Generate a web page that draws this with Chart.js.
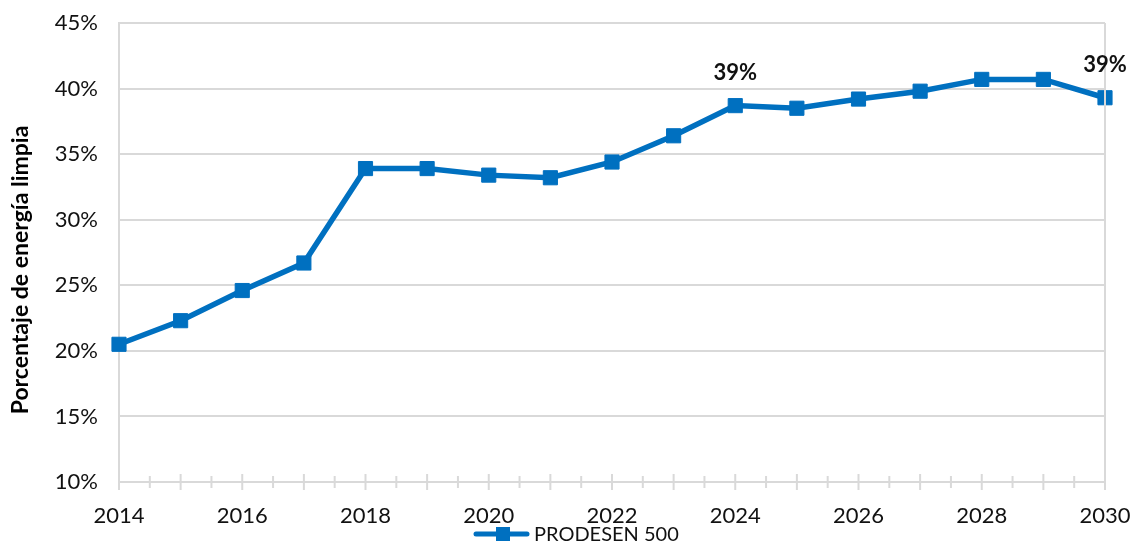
<!DOCTYPE html>
<html>
<head>
<meta charset="utf-8">
<script src="https://cdn.jsdelivr.net/npm/chart.js@4.4.1/dist/chart.umd.min.js"></script>
<style>
html,body{margin:0;padding:0;background:#fff;}
#wrap{width:1132px;height:543px;position:relative;}
</style>
</head>
<body>
<div id="wrap"><canvas id="c" width="1132" height="543"></canvas></div>
<script>
const years = [2014,2015,2016,2017,2018,2019,2020,2021,2022,2023,2024,2025,2026,2027,2028,2029,2030];
const cleanShare = [20.5,22.3,24.6,26.7,33.9,33.9,33.4,33.2,34.4,36.4,38.7,38.5,39.2,39.8,40.7,40.7,39.3];
const labelledYears = [2024,2030];
const labelTexts = ['39%','39%'];
const seriesName = 'PRODESEN 500';
const yAxisTitle = 'Porcentaje de energía limpia';

const BLUE = '#0070C0';
const GRID = '#d9d9d9';
const FONT = 'Lato, "Open Sans", "Liberation Sans", sans-serif';

function zeroPad(s) { s.paddingTop = 0; s.paddingBottom = 0; s.paddingLeft = 0; s.paddingRight = 0; }

const extras = {
  id: 'extras',
  afterDraw(chart) {
    const ctx = chart.ctx;
    const ca = chart.chartArea;
    const xs = chart.scales.x;
    ctx.save();
    // right border of plot area
    ctx.strokeStyle = GRID; ctx.lineWidth = 2;
    ctx.beginPath(); ctx.moveTo(ca.right, ca.top); ctx.lineTo(ca.right, ca.bottom); ctx.stroke();
    // x tick marks crossing the axis
    for (let v = years[0]; v <= years[years.length-1] + 0.001; v += 0.5) {
      const x = xs.getPixelForValue(v);
      const h = Number.isInteger(v) ? 8 : 6;
      ctx.beginPath(); ctx.moveTo(x, ca.bottom - h); ctx.lineTo(x, ca.bottom + h); ctx.stroke();
    }
    // y axis title
    ctx.save();
    ctx.translate(21, 270);
    ctx.rotate(-Math.PI / 2);
    ctx.fillStyle = '#000';
    ctx.font = 'bold 23px ' + FONT;
    ctx.textAlign = 'center'; ctx.textBaseline = 'middle';
    ctx.fillText(yAxisTitle, 0, 0);
    ctx.restore();
    // data labels
    const meta = chart.getDatasetMeta(0);
    ctx.fillStyle = '#111';
    ctx.font = 'bold 22px ' + FONT;
    ctx.textAlign = 'center'; ctx.textBaseline = 'middle';
    labelledYears.forEach((yr, i) => {
      const idx = years.indexOf(yr);
      const p = meta.data[idx];
      ctx.fillText(labelTexts[i], p.x, p.y - 33);
    });
    // legend (line + square marker + text)
    const ly = 534;
    ctx.strokeStyle = BLUE; ctx.lineWidth = 5; ctx.lineCap = 'round';
    ctx.beginPath(); ctx.moveTo(476, ly); ctx.lineTo(527, ly); ctx.stroke();
    ctx.fillStyle = BLUE; ctx.fillRect(496, ly - 7, 14, 14);
    ctx.fillStyle = '#111';
    ctx.font = '20px ' + FONT;
    ctx.textAlign = 'left'; ctx.textBaseline = 'middle';
    ctx.fillText(seriesName, 534, ly + 1);
    ctx.restore();
  }
};

new Chart(document.getElementById('c'), {
  type: 'line',
  data: {
    datasets: [{
      label: seriesName,
      data: years.map((y, i) => ({x: y, y: cleanShare[i]})),
      borderColor: BLUE,
      backgroundColor: BLUE,
      borderWidth: 5.5,
      pointStyle: 'rect',
      pointRadius: 10,
      pointBorderWidth: 1,
      pointBackgroundColor: BLUE,
      pointBorderColor: BLUE,
      tension: 0,
      clip: false
    }]
  },
  options: {
    responsive: false,
    animation: false,
    devicePixelRatio: 1,
    layout: { padding: { top: 23, right: 27, left: 0, bottom: 0 } },
    plugins: {
      legend: { display: false },
      tooltip: { enabled: false }
    },
    scales: {
      x: {
        type: 'linear',
        min: 2014, max: 2030,
        ticks: {
          stepSize: 2,
          color: '#111',
          font: { family: FONT, size: 22 },
          padding: 21,
          callback: v => String(v)
        },
        grid: { display: false, drawTicks: false },
        border: { display: true, color: GRID, width: 2 },
        afterFit(s) { s.height = 61; zeroPad(s); }
      },
      y: {
        min: 10, max: 45,
        ticks: {
          stepSize: 5,
          color: '#111',
          font: { family: FONT, size: 22 },
          padding: 21,
          callback: v => v + '%'
        },
        grid: { color: GRID, lineWidth: 2, drawTicks: false },
        border: { display: true, color: GRID, width: 2 },
        afterFit(s) { s.width = 119; zeroPad(s); }
      }
    }
  },
  plugins: [extras]
});
</script>
</body>
</html>
